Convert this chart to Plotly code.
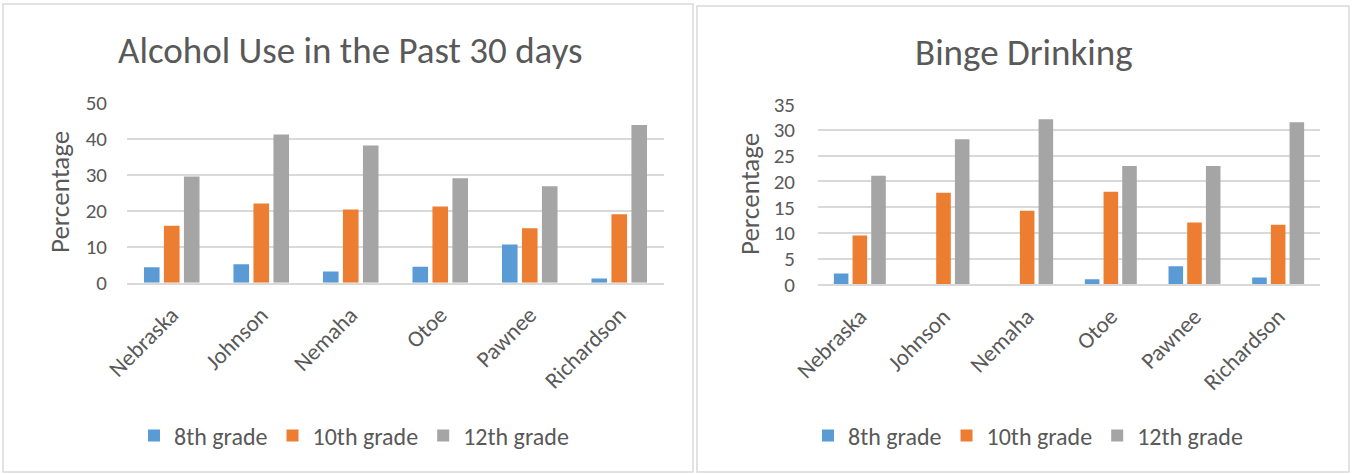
import plotly.graph_objects as go

# Counties / state compared in both charts
categories = ["Nebraska", "Johnson", "Nemaha", "Otoe", "Pawnee", "Richardson"]
grades = ["8th grade", "10th grade", "12th grade"]

# Alcohol use in the past 30 days (%)
alcohol_8th = [4.3, 5.1, 3.1, 4.4, 10.6, 1.2]
alcohol_10th = [15.8, 22.0, 20.3, 21.2, 15.1, 19.0]
alcohol_12th = [29.5, 41.2, 38.1, 29.0, 26.8, 43.8]

# Binge drinking (%)
binge_8th = [2.1, 0.0, 0.0, 1.0, 3.5, 1.3]
binge_10th = [9.5, 17.8, 14.3, 18.0, 12.0, 11.6]
binge_12th = [21.1, 28.2, 32.1, 23.0, 23.0, 31.5]

# Tick labels
alcohol_ticks = [0, 10, 20, 30, 40, 50]
binge_ticks = [0, 5, 10, 15, 20, 25, 30, 35]

colors = ["#5B9BD5", "#ED7D31", "#A5A5A5"]
text_color = "#595959"
grid_color = "#D9D9D9"
font_family = "Carlito, Lato, 'Open Sans', sans-serif"

W, H = 1354, 474


def px_x(x):
    return x / W


def px_y(y):
    return 1 - y / H


fig = go.Figure()

for name, vals, col in zip(grades, [alcohol_8th, alcohol_10th, alcohol_12th], colors):
    fig.add_trace(go.Bar(x=categories, y=vals, name=name, marker_color=col,
                         marker_line_width=0, xaxis="x", yaxis="y",
                         legend="legend"))

for name, vals, col in zip(grades, [binge_8th, binge_10th, binge_12th], colors):
    fig.add_trace(go.Bar(x=categories, y=vals, name=name, marker_color=col,
                         marker_line_width=0, xaxis="x2", yaxis="y2",
                         legend="legend2"))

tick_font = dict(family=font_family, size=21, color=text_color)
cat_font = dict(family=font_family, size=23, color=text_color)
legend_font = dict(family=font_family, size=24, color=text_color)

xaxis_common = dict(
    tickangle=-45, tickfont=cat_font, showgrid=False, showline=True,
    linecolor=grid_color, linewidth=1.5, ticks="", zeroline=False,
    automargin=False, ticklabelstandoff=8,
)
yaxis_common = dict(
    tickfont=tick_font, showgrid=True, gridcolor=grid_color, gridwidth=1.5,
    showline=False, zeroline=False, ticks="", automargin=False,
)

fig.update_layout(
    template="none",
    width=W, height=H,
    margin=dict(l=0, r=0, t=0, b=0, autoexpand=False),
    paper_bgcolor="white", plot_bgcolor="white",
    barmode="group", bargap=0.33, bargroupgap=0.22,
    font=dict(family=font_family, color=text_color),
    xaxis=dict(domain=[px_x(127), px_x(664)], anchor="y", **xaxis_common),
    yaxis=dict(domain=[px_y(282.7), px_y(102.7)], anchor="x",
               range=[0, 50], tickvals=alcohol_ticks, ticklabelstandoff=19,
               **yaxis_common),
    xaxis2=dict(domain=[px_x(818), px_x(1320)], anchor="y2", **xaxis_common),
    yaxis2=dict(domain=[px_y(284.3), px_y(104.3)], anchor="x2",
                range=[0, 35], tickvals=binge_ticks, ticklabelstandoff=22,
                **yaxis_common),
    legend=dict(orientation="h", x=px_x(354), y=px_y(436), xanchor="center",
                yanchor="middle", font=legend_font, itemwidth=30,
                traceorder="normal", bgcolor="rgba(0,0,0,0)"),
    legend2=dict(orientation="h", x=px_x(1028), y=px_y(436), xanchor="center",
                 yanchor="middle", font=legend_font, itemwidth=30,
                 traceorder="normal", bgcolor="rgba(0,0,0,0)"),
    showlegend=True,
)

# Chart frames
fig.add_shape(type="rect", xref="paper", yref="paper",
              x0=px_x(3), x1=px_x(693), y0=px_y(472), y1=px_y(4),
              line=dict(color=grid_color, width=1.5), fillcolor="rgba(0,0,0,0)",
              layer="below")
fig.add_shape(type="rect", xref="paper", yref="paper",
              x0=px_x(697), x1=px_x(1349), y0=px_y(472), y1=px_y(6),
              line=dict(color=grid_color, width=1.5), fillcolor="rgba(0,0,0,0)",
              layer="below")

# Chart titles
title_font = dict(family=font_family, size=37, color=text_color, weight=300)
fig.add_annotation(text="Alcohol Use in the Past 30 days", xref="paper", yref="paper",
                   x=px_x(350), y=px_y(50), xanchor="center", yanchor="middle",
                   showarrow=False, font=title_font)
fig.add_annotation(text="Binge Drinking", xref="paper", yref="paper",
                   x=px_x(1024), y=px_y(52), xanchor="center", yanchor="middle",
                   showarrow=False, font=title_font)

# Y-axis titles
ytitle_font = dict(family=font_family, size=27, color=text_color)
fig.add_annotation(text="Percentage", xref="paper", yref="paper",
                   x=px_x(60), y=px_y(192), xanchor="center", yanchor="middle",
                   textangle=-90, showarrow=False, font=ytitle_font)
fig.add_annotation(text="Percentage", xref="paper", yref="paper",
                   x=px_x(749), y=px_y(194), xanchor="center", yanchor="middle",
                   textangle=-90, showarrow=False, font=ytitle_font)

fig.write_html("out.html")

# Drop the browser's default page margin so the figure sits at the window edge
with open("out.html", encoding="utf-8") as f:
    page = f.read()
page = page.replace("<head>", "<head><style>html,body{margin:0;padding:0;overflow:hidden;}</style>", 1)
with open("out.html", "w", encoding="utf-8") as f:
    f.write(page)
